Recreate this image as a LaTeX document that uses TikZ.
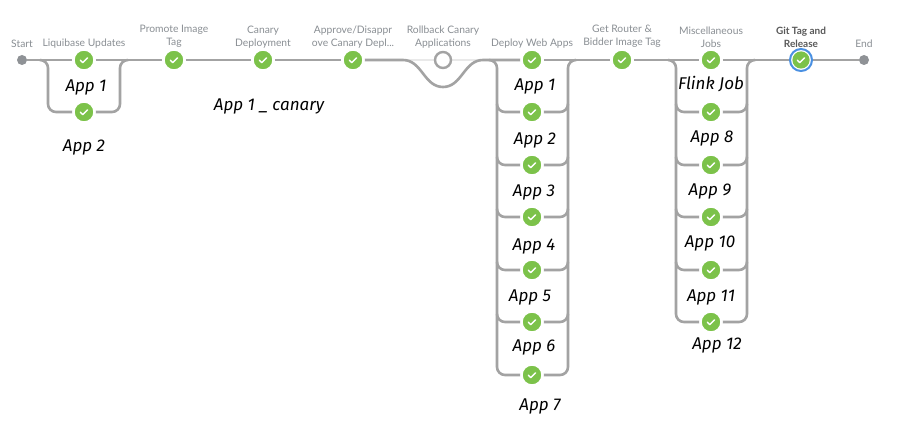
\documentclass[tikz,border=0pt]{standalone}
\usepackage{fontspec}
\setmainfont{Lato}
\newfontfamily\handfont{Fira Sans}
\usetikzlibrary{backgrounds}
\definecolor{okgreen}{HTML}{7CC24A}
\definecolor{pipegrey}{HTML}{A3A3A3}
\definecolor{endgrey}{HTML}{8F9296}
\definecolor{labelgrey}{HTML}{8A8F94}
\definecolor{focusblue}{HTML}{4A90E2}
\definecolor{palegrey}{HTML}{E9E9E9}
\tikzset{
  x=1pt,y=-1pt,
  pipe/.style={draw=pipegrey,line width=2.6pt,rounded corners=8pt},
  palepipe/.style={draw=palegrey,line width=2pt},
  donestage/.style={circle,inner sep=0pt,minimum size=21pt,fill=okgreen,draw=white,line width=2.4pt,
    path picture={\draw[white,line width=1.4pt,line cap=round,line join=round]
      ([shift={(-3.6pt,-0.2pt)}]path picture bounding box.center) -- ++(2.4pt,-2.4pt) -- ++(4.8pt,4.8pt);}},
  focusstage/.style={circle,inner sep=0pt,minimum size=22pt,fill=white,draw=focusblue,line width=2pt,
    path picture={\fill[okgreen] (path picture bounding box.center) circle[radius=8.6pt];
      \draw[white,line width=1.4pt,line cap=round,line join=round]
      ([shift={(-3.6pt,-0.2pt)}]path picture bounding box.center) -- ++(2.4pt,-2.4pt) -- ++(4.8pt,4.8pt);}},
  openstage/.style={circle,inner sep=0pt,minimum size=16pt,fill=white,draw=pipegrey,line width=2.4pt},
  endpoint/.style={circle,inner sep=0pt,minimum size=10pt,fill=endgrey},
  stagelabel/.style={anchor=south,align=center,text=labelgrey,font=\fontsize{10.3}{13}\selectfont,inner sep=0pt},
  hand/.style={text=black,font=\handfont\itshape\fontsize{17}{20}\selectfont,inner sep=0pt},
}
\begin{document}
\begin{tikzpicture}
\useasboundingbox (0,0) rectangle (921,425);
% stages
\node[endpoint] (start) at (22,60) {};
\node[donestage] (liq1) at (84,60) {};
\node[donestage] (liq2) at (84,112) {};
\node[donestage] (promote) at (174,60) {};
\node[donestage] (canary) at (263,60) {};
\node[donestage] (approve) at (353,60) {};
\node[openstage] (rollback) at (443,60) {};
\node[donestage] (dep1) at (532,60) {};
\node[donestage] (dep2) at (532,112) {};
\node[donestage] (dep3) at (532,165) {};
\node[donestage] (dep4) at (532,217) {};
\node[donestage] (dep5) at (532,270) {};
\node[donestage] (dep6) at (532,322) {};
\node[donestage] (dep7) at (532,375) {};
\node[donestage] (get) at (622,60) {};
\node[donestage] (misc1) at (711,60) {};
\node[donestage] (misc2) at (711,112) {};
\node[donestage] (misc3) at (711,165) {};
\node[donestage] (misc4) at (711,217) {};
\node[donestage] (misc5) at (711,270) {};
\node[donestage] (misc6) at (711,322) {};
\node[focusstage] (git) at (801,60) {};
\node[endpoint] (end) at (864,60) {};
% junctions
\coordinate (liqIn) at (40,60);
\coordinate (liqL) at (48,60);
\coordinate (liqR) at (120,60);
\coordinate (liqOut) at (128,60);
\coordinate (depIn) at (489,60);
\coordinate (depL) at (497,60);
\coordinate (depR) at (568,60);
\coordinate (depOut) at (576,60);
\coordinate (miscIn) at (668,60);
\coordinate (miscL) at (676,60);
\coordinate (miscR) at (747,60);
\coordinate (miscOut) at (755,60);
\coordinate (dipA) at (403,60);
\coordinate (dipB) at (443,87);
\coordinate (dipC) at (483,60);
\begin{scope}[on background layer]
\fill[white] (0,0) rectangle (921,425);
\draw[palepipe] (dipA) -- (rollback) -- (dipC);
% main line, each stretch once
\draw[pipe] (start) -- (liq1);
\draw[pipe] (liq1) -- (promote);
\draw[pipe] (promote) -- (canary);
\draw[pipe] (canary) -- (approve);
\draw[pipe,rounded corners=0pt] (approve) -- (dipA) .. controls (422,60) and (424,87) .. (dipB) .. controls (462,87) and (464,60) .. (dipC) -- (dep1);
\draw[pipe] (dep1) -- (get);
\draw[pipe] (get) -- (misc1);
\draw[pipe] (misc1) -- (git);
\draw[pipe] (git) -- (end);
% outer rails
\draw[pipe] (liqIn) -- (liqL) |- (liq2);
\draw[pipe] (liq2) -| (liqR) -- (liqOut);
\draw[pipe] (depIn) -- (depL) |- (dep7);
\draw[pipe] (dep7) -| (depR) -- (depOut);
\draw[pipe] (miscIn) -- (miscL) |- (misc6);
\draw[pipe] (misc6) -| (miscR) -- (miscOut);
% inner branches leaving the rails
\foreach \n in {dep2,dep3,dep4,dep5,dep6}{
  \draw[pipe] ([yshift=8pt]depL |- \n) |- (\n);
  \draw[pipe] (\n) -| ([yshift=8pt]depR |- \n);
}
\foreach \n in {misc2,misc3,misc4,misc5}{
  \draw[pipe] ([yshift=8pt]miscL |- \n) |- (\n);
  \draw[pipe] (\n) -| ([yshift=8pt]miscR |- \n);
}
\end{scope}
% stage labels
\node[stagelabel] at (22,48) {Start};
\node[stagelabel] at (84,48) {Liquibase Updates};
\node[stagelabel] at (174,48) {Promote Image\\Tag};
\node[stagelabel] at (263,48) {Canary\\Deployment};
\node[stagelabel] at (353,48) {Approve/Disappr\\ove Canary Depl...};
\node[stagelabel] at (443,48) {Rollback Canary\\Applications};
\node[stagelabel] at (532,48) {Deploy Web Apps};
\node[stagelabel] at (622,48) {Get Router \&\\Bidder Image Tag};
\node[stagelabel] at (711,48) {Miscellaneous\\Jobs};
\node[stagelabel,text=black!65,font=\bfseries\fontsize{10}{13}\selectfont] at (801,47.5) {Git Tag and\\Release};
\node[stagelabel] at (864,48) {End};
% handwritten notes
\node[hand] at (86,87) {App 1};
\node[hand] at (84,147) {App 2};
\node[hand] at (269,106) {App 1 \_ canary};
\node[hand] at (535,86) {App 1};
\node[hand] at (535,140) {App 2};
\node[hand] at (534,192) {App 3};
\node[hand] at (534,246) {App 4};
\node[hand] at (530,297) {App 5};
\node[hand] at (534,347) {App 6};
\node[hand] at (540,406) {App 7};
\node[hand] at (711,84) {Flink Job};
\node[hand] at (712,138) {App 8};
\node[hand] at (710,191) {App 9};
\node[hand] at (710,243) {App 10};
\node[hand] at (711,297) {App 11};
\node[hand] at (717,345) {App 12};
\end{tikzpicture}
\end{document}
